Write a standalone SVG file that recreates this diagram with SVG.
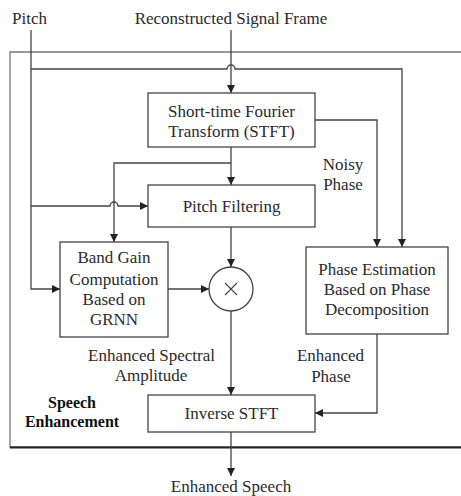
<svg xmlns="http://www.w3.org/2000/svg" width="461" height="496" viewBox="0 0 461 496" font-family="Liberation Serif, DejaVu Serif, serif">
  <defs>
    <marker id="arr" viewBox="0 0 10 10" refX="10" refY="5" markerWidth="8" markerHeight="8" markerUnits="userSpaceOnUse" orient="auto">
      <path d="M0,0 L10,5 L0,10 z" fill="#222"/>
    </marker>
    <style>
      text { font-size: 17px; fill: #2a2a2a; text-anchor: middle; }
      .lft { text-anchor: start; }
      .bold { font-weight: bold; font-size: 16px; fill: #111; }
      .box { fill: #fff; stroke: #444; stroke-width: 1.3; }
      .wire { fill: none; stroke: #444; stroke-width: 1.3; }
      .arrow { marker-end: url(#arr); }
    </style>
  </defs>
  <rect width="461" height="496" fill="#fff"/>

  <!-- enclosing "Speech Enhancement" frame (runs past the right edge) -->
  <g id="frame">
    <path d="M470,52 H10 V447 H470" fill="none" stroke="#777" stroke-width="1.3"/>
    <line x1="10" y1="447.5" x2="470" y2="447.5" stroke="#222" stroke-width="2"/>
    <text class="bold" x="72" y="408">Speech</text>
    <text class="bold" x="72" y="427">Enhancement</text>
  </g>

  <g id="connectors">
    <!-- pitch input -->
    <path class="wire arrow" d="M31,30 V289 H60"/>
    <path class="wire arrow" d="M31,69 H227 A4,4 0 0 1 235,69 H402 V247"/>
    <path class="wire arrow" d="M31,206 H110 A4,4 0 0 1 118,206 H148"/>
    <!-- reconstructed frame into STFT -->
    <path class="wire arrow" d="M231,30 V93"/>
    <!-- STFT outputs -->
    <path class="wire arrow" d="M231,147 V185"/>
    <path class="wire arrow" d="M231,163 H114 V242"/>
    <path class="wire arrow" d="M315,120 H377 V247"/>
    <!-- pitch filtering to multiplier -->
    <path class="wire arrow" d="M231,227 V267"/>
    <!-- band gain to multiplier -->
    <path class="wire arrow" d="M168,289 H209"/>
    <!-- multiplier to inverse STFT -->
    <path class="wire arrow" d="M231,311 V395"/>
    <!-- enhanced phase to inverse STFT -->
    <path class="wire arrow" d="M377,334 V413 H315"/>
    <!-- output -->
    <path class="wire arrow" d="M231,432 V476"/>
  </g>

  <g id="inputs">
    <text class="lft" x="12" y="24">Pitch</text>
    <text x="231" y="24">Reconstructed Signal Frame</text>
  </g>

  <g id="stft">
    <rect class="box" x="148" y="93" width="167" height="54"/>
    <text x="231.5" y="117">Short-time Fourier</text>
    <text x="231.5" y="137">Transform (STFT)</text>
  </g>

  <g id="pitch-filtering">
    <rect class="box" x="148" y="185" width="167" height="42"/>
    <text x="231.5" y="212">Pitch Filtering</text>
  </g>

  <g id="band-gain">
    <rect class="box" x="60" y="242" width="108" height="95"/>
    <text x="114" y="263">Band Gain</text>
    <text x="114" y="285">Computation</text>
    <text x="114" y="305">Based on</text>
    <text x="114" y="325">GRNN</text>
  </g>

  <g id="multiplier">
    <circle cx="231" cy="289" r="22" fill="#fff" stroke="#444" stroke-width="1.3"/>
    <path d="M225,283 L237,295 M237,283 L225,295" stroke="#444" stroke-width="1.1"/>
  </g>

  <g id="phase-estimation">
    <rect class="box" x="306" y="247" width="142" height="87"/>
    <text x="377" y="275">Phase Estimation</text>
    <text x="377" y="295">Based on Phase</text>
    <text x="377" y="315">Decomposition</text>
  </g>

  <g id="inverse-stft">
    <rect class="box" x="148" y="395" width="167" height="37"/>
    <text x="231.5" y="419">Inverse STFT</text>
  </g>

  <g id="labels">
    <text x="343" y="170">Noisy</text>
    <text x="343" y="190">Phase</text>
    <text x="151.5" y="361">Enhanced Spectral</text>
    <text x="151" y="381">Amplitude</text>
    <text x="330.5" y="361">Enhanced</text>
    <text x="331" y="382">Phase</text>
    <text x="231" y="492">Enhanced Speech</text>
  </g>
</svg>
